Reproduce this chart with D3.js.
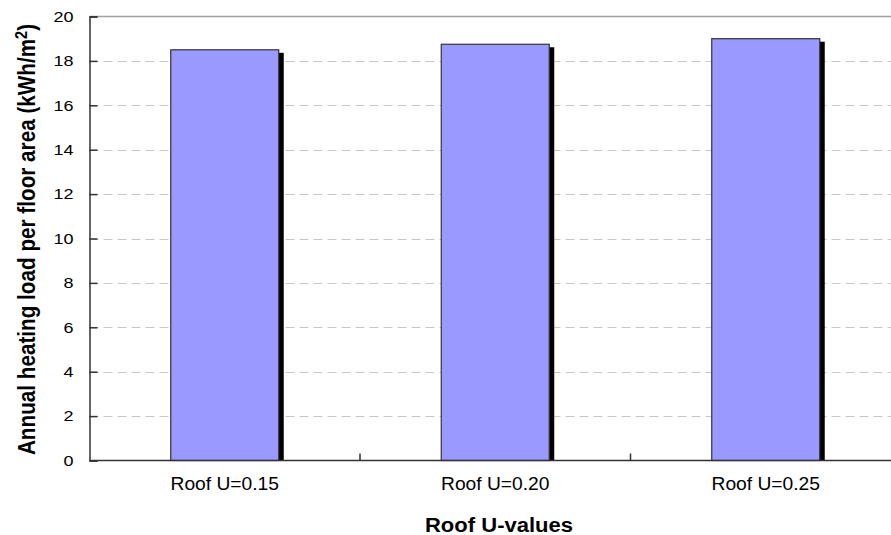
<!DOCTYPE html>
<html>
<head>
<meta charset="utf-8">
<script src="https://cdn.jsdelivr.net/npm/d3@7"></script>
<style>
  html, body { margin: 0; padding: 0; background: #fff; }
  svg { display: block; }
  text { font-family: "Liberation Sans", Arial, sans-serif; fill: #000; }
</style>
</head>
<body>
<svg id="chart" width="891" height="535"></svg>
<script>
// Annual heating load for three roof U-values
const categories = ["Roof U=0.15", "Roof U=0.20", "Roof U=0.25"];
const heatingLoad = [18.5, 18.75, 19.0];
const yTicks = [0, 2, 4, 6, 8, 10, 12, 14, 16, 18, 20];

const svg = d3.select("#chart");
const plotLeft = 89.5, plotTop = 16.5, plotBottom = 460.5;
const band = 270.5;
const plotRight = plotLeft + band * categories.length;
const barWidth = 108;

const x = d3.scaleBand().domain(categories).range([plotLeft, plotRight]);
const y = d3.scaleLinear().domain([0, 20]).range([plotBottom, plotTop]);

// horizontal dashed gridlines
svg.append("g")
  .selectAll("line")
  .data(yTicks.filter(d => d > 0 && d < 20))
  .join("line")
  .attr("x1", plotLeft).attr("x2", plotRight)
  .attr("y1", d => Math.round(y(d)) + 0.5).attr("y2", d => Math.round(y(d)) + 0.5)
  .attr("stroke", "#c8c8c8")
  .attr("stroke-width", 1)
  .attr("stroke-dasharray", "9,5");

// top frame line
svg.append("line")
  .attr("x1", plotLeft).attr("x2", plotRight)
  .attr("y1", plotTop).attr("y2", plotTop)
  .attr("stroke", "#a0a0a0").attr("stroke-width", 1.5);

// bar shadows
svg.append("g")
  .selectAll("rect")
  .data(heatingLoad)
  .join("rect")
  .attr("x", (d, i) => x(categories[i]) + (band - barWidth) / 2 + 5)
  .attr("y", d => y(d) + 3)
  .attr("width", barWidth)
  .attr("height", d => plotBottom - y(d) - 3)
  .attr("fill", "#000");

// bars
svg.append("g")
  .selectAll("rect")
  .data(heatingLoad)
  .join("rect")
  .attr("x", (d, i) => x(categories[i]) + (band - barWidth) / 2)
  .attr("y", d => y(d))
  .attr("width", barWidth)
  .attr("height", d => plotBottom - y(d))
  .attr("fill", "#9999ff")
  .attr("stroke", "#333")
  .attr("stroke-width", 1.2);

// y axis with inward ticks, wide tick numerals
const yAxis = d3.axisLeft(y).tickValues(yTicks).tickSize(-8).tickFormat(d3.format("d"));
const gy = svg.append("g").attr("transform", `translate(${plotLeft},0)`).call(yAxis);
gy.select(".domain").attr("stroke", "#333").attr("stroke-width", 1.5);
gy.selectAll(".tick line").attr("stroke", "#333").attr("stroke-width", 1.5);
gy.selectAll(".tick text")
  .attr("x", 0)
  .attr("transform", "translate(-16,0) scale(1.2,1)")
  .attr("font-size", 15)
  .attr("font-family", "Liberation Sans, Arial, sans-serif")
  .attr("fill", "#000");

// x axis: category boundary ticks
const gx = svg.append("g");
gx.append("line")
  .attr("x1", plotLeft).attr("x2", plotRight)
  .attr("y1", plotBottom).attr("y2", plotBottom)
  .attr("stroke", "#333").attr("stroke-width", 1.5);
gx.selectAll("line.sep")
  .data(categories.slice(1))
  .join("line")
  .attr("class", "sep")
  .attr("x1", d => x(d)).attr("x2", d => x(d))
  .attr("y1", plotBottom).attr("y2", plotBottom - 7)
  .attr("stroke", "#333").attr("stroke-width", 1.5);
gx.selectAll("text")
  .data(categories)
  .join("text")
  .attr("transform", d => `translate(${x(d) + band / 2},490) scale(1.04,1)`)
  .attr("text-anchor", "middle")
  .attr("font-size", 18.5)
  .text(d => d);

// axis titles
svg.append("text")
  .attr("transform", "translate(499,531.5) scale(1.13,1)")
  .attr("text-anchor", "middle")
  .attr("font-size", 19.5)
  .attr("font-weight", "bold")
  .text("Roof U-values");

const yTitle = svg.append("text")
  .attr("transform", "translate(35,239.5) scale(1.13,1) rotate(-90)")
  .attr("text-anchor", "middle")
  .attr("font-size", 20.7)
  .attr("font-weight", "bold");
yTitle.append("tspan").text("Annual heating load per floor area (kWh/m");
yTitle.append("tspan").attr("baseline-shift", "super").attr("font-size", 14.5).text("2");
yTitle.append("tspan").text(")");
</script>
</body>
</html>
